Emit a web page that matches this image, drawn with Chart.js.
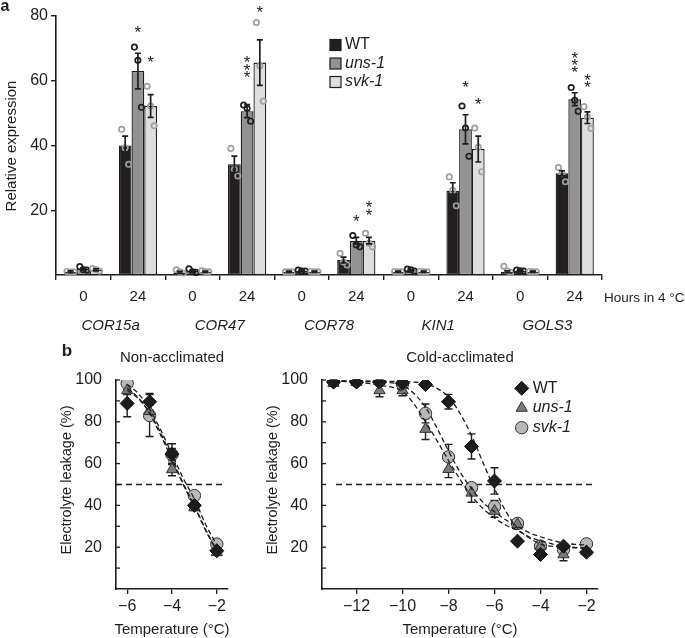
<!DOCTYPE html>
<html><head><meta charset="utf-8">
<script src="https://cdn.jsdelivr.net/npm/chart.js@4.4.1/dist/chart.umd.min.js"></script>
<style>
html,body{margin:0;padding:0;background:#fff;}
#wrap{position:relative;width:685px;height:638px;overflow:hidden;background:#fff;}
canvas{position:absolute;}
</style></head><body>
<div id="wrap">
<canvas id="ca" width="685" height="345" style="left:0px;top:0px"></canvas>
<canvas id="cb1" width="260" height="308" style="left:0px;top:330px"></canvas>
<canvas id="cb2" width="425" height="308" style="left:260px;top:330px"></canvas>
</div>
<script>
// ---------- Panel a data ----------
const genes = ['COR15a','COR47','COR78','KIN1','GOLS3'];
const hours = ['0','24','0','24','0','24','0','24','0','24'];
const seriesNames = ['WT','uns-1','svk-1'];
const yTicksA = [20,40,60,80];
const wtMean  = [1.0,40.0,0.8,34.2,1.0,4.6,1.0,26.0,1.0,31.4];
const unsMean = [1.9,63.0,1.2,50.6,1.3,10.6,1.5,45.0,1.3,54.3];
const svkMean = [1.6,52.2,1.0,65.6,1.0,10.6,1.0,38.9,1.0,48.6];
const wtSem  = [0.3,2.9,0.3,2.5,0.2,0.9,0.2,2.5,0.3,0.8];
const unsSem = [0.4,5.5,0.3,2.0,0.2,1.0,0.2,4.5,0.2,2.0];
const svkSem = [0.3,3.5,0.2,7.0,0.2,1.0,0.2,4.0,0.2,1.8];
const wtReps  = [[1.1,0.9,1.0],[45.0,39.3,34.2],[1.6,1.0,0.6],[39.1,32.6,30.6],[1.0,1.0,1.0],[6.7,4.0,3.1],[1.1,1.0,1.0],[30.3,26.2,21.4],[2.7,1.2,0.8],[33.2,31.4,28.8]];
const unsReps = [[2.6,1.6,1.5],[70.4,66.3,51.8],[1.9,1.0,0.8],[52.5,51.5,47.5],[1.5,1.2,1.2],[12.2,9.3,8.7],[1.8,1.6,1.2],[52.2,45.4,36.7],[1.5,1.3,1.2],[57.9,54.0,50.6]];
const svkReps = [[2.0,1.7,1.2],[58.3,52.2,46.1],[1.3,1.1,1.0],[78.0,64.6,53.7],[1.1,1.0,1.0],[12.9,9.8,8.7],[1.1,1.0,1.0],[45.4,39.5,31.9],[1.1,1.0,1.0],[52.0,48.8,45.3]];
const unsStars = [0,1,0,3,0,1,0,1,0,3];
const unsStarY = [null,75.4,null,61.7,null,17.0,null,58.6,null,63.1];
const svkStars = [0,1,0,1,0,2,0,1,0,2];
const svkStarY = [null,66.3,null,81.8,null,19.1,null,53.2,null,58.5];

// ---------- Panel b data ----------
const threshold = 50;
const yTicksB = [10,20,30,40,50,60,70,80,90,100];
const xTicksNA = [-6,-4,-2];
const xTicksCA = [-12,-10,-8,-6,-4,-2];
const tempNA = [-6,-5,-4,-3,-2];
const naWT  = [88.8,89.6,64.5,40.0,18.3];
const naWTerr  = [6.4,4.0,5.0,1.5,1.0];
const naUns = [95.0,85.0,57.2,39.0,17.5];
const naUnsErr = [2.0,3.0,3.0,1.5,1.0];
const naSvk = [98.4,83.0,64.3,44.7,21.5];
const naSvkErr = [1.0,10.0,3.0,1.5,1.0];
const naFitX   = [-6,-5.5,-5,-4.5,-4,-3.5,-3,-2.5,-2];
const naFitWT  = [95.0,91.0,84.5,74.5,62.5,50.5,40.0,28.5,18.5];
const naFitUns = [96.0,91.5,84.0,73.5,62.0,50.0,39.5,28.0,18.0];
const naFitSvk = [98.0,93.5,86.0,76.0,64.5,53.0,43.0,31.0,21.0];

const tempCA = [-13,-12,-11,-10,-9,-8,-7,-6,-5,-4,-3,-2];
const caWT  = [99.0,99.0,99.0,98.5,97.8,89.6,68.2,51.7,22.9,16.5,20.5,17.6];
const caWTerr  = [0.5,0.5,0.5,0.5,1.0,3.5,6.0,6.3,1.0,1.0,1.0,1.0];
const caUns = [98.5,99.0,95.0,95.0,76.5,57.3,46.0,37.3,30.9,20.5,16.5,18.0];
const caUnsErr = [1.0,1.0,3.0,2.5,5.0,4.0,4.5,3.0,2.0,2.0,3.0,1.0];
const caSvk = [99.5,99.5,99.5,98.0,84.0,63.2,48.5,39.4,31.4,20.5,18.9,21.6];
const caSvkErr = [0.5,0.5,0.5,1.0,4.5,6.0,2.0,3.0,2.0,1.5,2.0,1.0];
const caFitX   = [-13,-12,-11,-10,-9.5,-9,-8.5,-8,-7.5,-7,-6.5,-6,-5.5,-5,-4.5,-4,-3,-2];
const caFitWT  = [99.5,99.5,99.4,99.2,99.0,98.3,96.0,92.0,84.0,73.5,60.5,48.0,37.0,29.0,24.5,21.5,20.0,19.5];
const caFitUns = [99.5,99.0,97.5,94.5,88.5,80.0,71.0,61.5,52.5,44.5,38.5,34.0,30.5,28.0,25.0,23.0,20.5,19.5];
const caFitSvk = [99.7,99.5,99.0,97.5,93.5,87.0,77.0,66.0,56.0,48.0,41.5,37.0,33.0,30.0,27.0,25.0,22.0,21.0];

// ---------- styles ----------
const FONT = "'Liberation Sans', Arial, Helvetica, sans-serif";
Chart.defaults.font.family = FONT;
Chart.defaults.color = '#222';
Chart.defaults.animation = false;
const INK = '#1e1e1e';
const barColors = ['#231f20','#929292','#dedede'];
const dotColors = ['#a0a0a0','#1e1e1e','#a0a0a0'];
const jitter = [-3.5, 0, 3.5];

function txt(ctx, s, x, y, opt) {
  ctx.save();
  ctx.font = (opt.style||'') + ' ' + (opt.weight||'normal') + ' ' + (opt.size||14) + 'px ' + FONT;
  ctx.fillStyle = opt.color || INK;
  ctx.textAlign = opt.align || 'center';
  ctx.textBaseline = opt.base || 'middle';
  ctx.translate(x, y);
  if (opt.rot) ctx.rotate(opt.rot);
  ctx.fillText(s, 0, 0);
  ctx.restore();
}

// ---------- Panel a ----------
const pluginA = {
  id: 'pa',
  afterDatasetsDraw(chart) {
    const ctx = chart.ctx, y = chart.scales.y;
    const reps = [wtReps, unsReps, svkReps];
    const sems = [wtSem, unsSem, svkSem];
    for (let di = 0; di < 3; di++) {
      const meta = chart.getDatasetMeta(di);
      const vals = chart.data.datasets[di].data;
      meta.data.forEach((bar, i) => {
        ctx.save();
        ctx.strokeStyle = dotColors[di]; ctx.lineWidth = 1.7;
        reps[di][i].forEach((v, k) => {
          ctx.beginPath();
          ctx.arc(bar.x + jitter[k], y.getPixelForValue(v), 2.7, 0, Math.PI * 2);
          ctx.stroke();
        });
        const yt = y.getPixelForValue(vals[i] + sems[di][i]);
        const yb = y.getPixelForValue(vals[i] - sems[di][i]);
        ctx.strokeStyle = INK; ctx.lineWidth = 1.7;
        ctx.beginPath();
        ctx.moveTo(bar.x, yt); ctx.lineTo(bar.x, yb);
        ctx.moveTo(bar.x - 3, yt); ctx.lineTo(bar.x + 3, yt);
        ctx.moveTo(bar.x - 3, yb); ctx.lineTo(bar.x + 3, yb);
        ctx.stroke();
        ctx.restore();
      });
    }
    // significance stars
    const starSets = [[1, unsStars, unsStarY], [2, svkStars, svkStarY]];
    starSets.forEach(([di, counts, ys]) => {
      const meta = chart.getDatasetMeta(di);
      counts.forEach((n, i) => {
        if (!n) return;
        const x = meta.data[i].x;
        const base = y.getPixelForValue(ys[i]);
        for (let k = 0; k < n; k++) {
          txt(ctx, '*', x, base - k * 7.2 + 7.5, {size: 17, base: 'alphabetic'});
        }
      });
    });
  },
  afterDraw(chart) {
    const ctx = chart.ctx, x = chart.scales.x;
    txt(ctx, 'a', 5, -1, {size: 16, weight: 'bold', align: 'center', base: 'top'});
    txt(ctx, 'Relative expression', 12, 146, {size: 15, rot: -Math.PI / 2});
    genes.forEach((g, i) => {
      const cx = (x.getPixelForValue(2 * i) + x.getPixelForValue(2 * i + 1)) / 2;
      txt(ctx, g, cx, 326, {size: 15, style: 'italic'});
    });
    txt(ctx, 'Hours in 4 \u00B0C', 604, 298, {size: 13.5, align: 'left'});
    // legend
    const ly = [45, 63.5, 82];
    seriesNames.forEach((n, i) => {
      ctx.save();
      ctx.fillStyle = barColors[i]; ctx.strokeStyle = INK; ctx.lineWidth = 1.2;
      ctx.fillRect(330, ly[i] - 5.5, 11, 11);
      ctx.strokeRect(330, ly[i] - 5.5, 11, 11);
      ctx.restore();
      txt(ctx, n, 345, ly[i], {size: 16, align: 'left', style: i ? 'italic' : ''});
    });
  }
};

const barDs = (label, data, i) => ({
  label, data, backgroundColor: barColors[i], borderColor: INK, borderWidth: 1.3,
  borderSkipped: false, categoryPercentage: 0.7, barPercentage: 1.0
});

new Chart(document.getElementById('ca'), {
  type: 'bar',
  data: { labels: hours, datasets: [
    barDs(seriesNames[0], wtMean, 0),
    barDs(seriesNames[1], unsMean, 1),
    barDs(seriesNames[2], svkMean, 2)
  ]},
  options: {
    responsive: false, animation: false,
    layout: { padding: { left: 0, top: 16, right: 83, bottom: 0 } },
    plugins: { legend: { display: false }, tooltip: { enabled: false } },
    scales: {
      x: {
        grid: { display: true, drawOnChartArea: false, drawTicks: true, tickLength: 5, color: INK, lineWidth: 1.4, offset: true },
        border: { display: true, color: INK, width: 1.6 },
        ticks: { font: { size: 15 }, color: INK, padding: 8, maxRotation: 0, autoSkip: false },
        afterFit(s) { s.height = 70; }
      },
      y: {
        min: 0, max: 80,
        grid: { display: true, drawOnChartArea: false, drawTicks: true, tickLength: 5, color: INK, lineWidth: 1.4 },
        border: { display: true, color: INK, width: 1.6 },
        ticks: { font: { size: 16 }, color: INK, padding: 3 },
        afterBuildTicks(s) { s.ticks = yTicksA.map(v => ({ value: v })); },
        afterFit(s) { s.width = 56; }
      }
    }
  },
  plugins: [pluginA]
});

// ---------- Panel b ----------
const markerStyles = [
  { pointStyle: 'rectRot', backgroundColor: '#1c1c1c', borderColor: '#111', pointRadius: 7 },
  { pointStyle: 'triangle', backgroundColor: '#7b7b7b', borderColor: '#333', pointRadius: 6.5 },
  { pointStyle: 'circle', backgroundColor: '#b8b8b8', borderColor: '#333', pointRadius: 6.2 }
];
const pts = (xs, ys) => xs.map((v, i) => ({ x: v, y: ys[i] }));

function makeB(id, cfg) {
  const plugin = {
    id: 'pb',
    beforeDatasetsDraw(chart) {
      const { ctx, chartArea: a, scales: { x, y } } = chart;
      ctx.save();
      ctx.setLineDash([6, 4]); ctx.lineWidth = 1.4; ctx.strokeStyle = INK;
      const yy = y.getPixelForValue(threshold);
      ctx.beginPath(); ctx.moveTo(a.left + cfg.thrInset, yy); ctx.lineTo(a.right - 2, yy); ctx.stroke();
      ctx.setLineDash([]);
      ctx.lineWidth = 1.3;
      yTicksB.forEach(v => {
        const p = y.getPixelForValue(v);
        ctx.beginPath(); ctx.moveTo(a.left, p); ctx.lineTo(a.left + 4, p); ctx.stroke();
      });
      ctx.lineWidth = 1.4;
      cfg.errs.forEach(([vals, errs]) => {
        vals.forEach((v, i) => {
          const px = x.getPixelForValue(cfg.temps[i]);
          const yt = y.getPixelForValue(v + errs[i]), yb = y.getPixelForValue(v - errs[i]);
          ctx.beginPath();
          ctx.moveTo(px, yt); ctx.lineTo(px, yb);
          ctx.moveTo(px - 4, yt); ctx.lineTo(px + 4, yt);
          ctx.moveTo(px - 4, yb); ctx.lineTo(px + 4, yb);
          ctx.stroke();
        });
      });
      ctx.restore();
    },
    afterDraw(chart) {
      const { ctx, chartArea: a } = chart;
      const cx = (a.left + a.right) / 2;
      txt(ctx, cfg.title, cx, 28, { size: 15 });
      txt(ctx, 'Electrolyte leakage (%)', cfg.yTitleX, 150, { size: 14.5, rot: -Math.PI / 2 });
      txt(ctx, 'Temperature (\u00B0C)', cx, 300, { size: 15 });
      if (cfg.panel) txt(ctx, cfg.panel, cfg.panelX, 21, { size: 17, weight: 'bold' });
      if (cfg.legend) {
        const ly = [58.3, 78, 97.7];
        seriesNames.forEach((n, i) => {
          const ms = markerStyles[i];
          ctx.save();
          ctx.fillStyle = ms.backgroundColor; ctx.strokeStyle = ms.borderColor; ctx.lineWidth = 1;
          Chart.helpers.drawPoint(ctx, { pointStyle: ms.pointStyle, radius: ms.pointRadius, borderWidth: 1, rotation: 0 }, cfg.legendX, ly[i]);
          ctx.restore();
          txt(ctx, n, cfg.legendX + 11, ly[i], { size: 16, align: 'left', style: i ? 'italic' : '' });
        });
      }
    }
  };
  const fitDs = (ys) => ({
    data: pts(cfg.fitX, ys), showLine: true, pointRadius: 0, borderColor: INK, borderWidth: 1.3,
    borderDash: [5, 3], cubicInterpolationMode: 'monotone', fill: false, order: 0
  });
  const markDs = (ys, i) => Object.assign({
    data: pts(cfg.temps, ys), showLine: false, borderWidth: 1, order: 1
  }, markerStyles[i]);
  new Chart(document.getElementById(id), {
    type: 'scatter',
    data: { datasets: [
      fitDs(cfg.fits[0]), fitDs(cfg.fits[1]), fitDs(cfg.fits[2]),
      markDs(cfg.marks[0], 0), markDs(cfg.marks[1], 1), markDs(cfg.marks[2], 2)
    ]},
    options: {
      responsive: false, animation: false,
      layout: { padding: { left: 0, top: 50, right: cfg.padRight, bottom: 0 } },
      plugins: { legend: { display: false }, tooltip: { enabled: false } },
      scales: {
        x: {
          type: 'linear', min: cfg.xMin, max: cfg.xMax,
          grid: { display: true, drawOnChartArea: false, drawTicks: true, tickLength: 5, color: INK, lineWidth: 1.3 },
          border: { display: true, color: INK, width: 1.6 },
          ticks: { font: { size: 16 }, color: INK, padding: 3, maxRotation: 0,
                   callback: v => (v < 0 ? '\u2212' + Math.abs(v) : String(v)) },
          afterBuildTicks(s) { s.ticks = cfg.xTicks.map(v => ({ value: v })); },
          afterFit(s) { s.height = 49; }
        },
        y: {
          min: 0, max: 100,
          grid: { display: false },
          border: { display: true, color: INK, width: 1.6 },
          ticks: { font: { size: 16 }, color: INK, padding: 6,
                   callback: v => (v % 20 === 0 && v > 0 ? String(v) : '') },
          afterBuildTicks(s) { s.ticks = yTicksB.map(v => ({ value: v })); },
          afterFit(s) { s.width = cfg.yWidth; }
        }
      }
    },
    plugins: [plugin]
  });
}

makeB('cb1', {
  title: 'Non-acclimated', panel: 'b', panelX: 67, yTitleX: 67, legend: false,
  temps: tempNA, fitX: naFitX, fits: [naFitWT, naFitUns, naFitSvk], marks: [naWT, naUns, naSvk],
  errs: [[naWT, naWTerr], [naUns, naUnsErr], [naSvk, naSvkErr]],
  xMin: -6.5, xMax: -1.5, xTicks: xTicksNA, yWidth: 116, padRight: 32, thrInset: 0
});
makeB('cb2', {
  title: 'Cold-acclimated', panel: null, yTitleX: 13, legend: true, legendX: 261.7,
  temps: tempCA, fitX: caFitX, fits: [caFitWT, caFitUns, caFitSvk], marks: [caWT, caUns, caSvk],
  errs: [[caWT, caWTerr], [caUns, caUnsErr], [caSvk, caSvkErr]],
  xMin: -13.5, xMax: -1.5, xTicks: xTicksCA, yWidth: 62, padRight: 87, thrInset: 14
});
</script>
</body></html>
